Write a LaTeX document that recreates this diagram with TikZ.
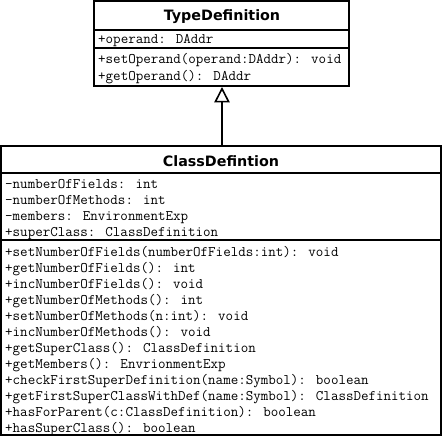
\documentclass[tikz,border=0pt]{standalone}
\usepackage{fontspec}
\newfontfamily\titlefont{DejaVu Sans}
\usetikzlibrary{arrows.meta}
\tikzset{
  umlbox/.style={draw=black, line width=2pt, fill=white, inner sep=0pt, rectangle},
  sepline/.style={draw=black, line width=1.6pt},
  mono/.style={inner sep=0pt, anchor=base west, font=\ttfamily\fontsize{14.6pt}{16pt}\selectfont, text=black},
  umltitle/.style={inner sep=0pt, anchor=base, font=\titlefont\bfseries\fontsize{14.3pt}{16pt}\selectfont, text=black},
  inherit/.style={draw=black, line width=2pt, -{Triangle[open, length=15.5pt, width=15.5pt, line width=1.6pt, fill=white]}}
}
\begin{document}
\begin{tikzpicture}[x=1pt,y=-1pt]
\useasboundingbox (0,0) rectangle (445,441);
\fill[white] (0,0) rectangle (445,441);

% TypeDefinition box
\node[umlbox, minimum width=255pt, minimum height=85pt] (typedef) at (221.5,43.5) {};
\draw[sepline] (94,30) -- (349,30);
\draw[sepline] (94,48) -- (349,48);
\node[umltitle] (typetitle) at (222,21) {TypeDefinition};
\node[mono] (ta1) at (98,44) {+operand: DAddr};
\node[mono] (tm1) at (98,63.5) {+setOperand(operand:DAddr): void};
\node[mono] (tm2) at (98,80.5) {+getOperand(): DAddr};

% ClassDefintion box
\node[umlbox, minimum width=440pt, minimum height=289pt] (classdef) at (221,290.5) {};
\draw[sepline] (1,173) -- (441,173);
\draw[sepline] (1,240) -- (441,240);
\node[umltitle] (classtitle) at (221,167) {ClassDefintion};
\node[mono] (ca1) at (5,188.5) {-numberOfFields: int};
\node[mono] (ca2) at (5,204.5) {-numberOfMethods: int};
\node[mono] (ca3) at (5,220.5) {-members: EnvironmentExp};
\node[mono] (ca4) at (5,236.5) {+superClass: ClassDefinition};
\node[mono] (cm1) at (5,256.5) {+setNumberOfFields(numberOfFields:int): void};
\node[mono] (cm2) at (5,272.5) {+getNumberOfFields(): int};
\node[mono] (cm3) at (5,288.5) {+incNumberOfFields(): void};
\node[mono] (cm4) at (5,304.5) {+getNumberOfMethods(): int};
\node[mono] (cm5) at (5,320.5) {+setNumberOfMethods(n:int): void};
\node[mono] (cm6) at (5,336.5) {+incNumberOfMethods(): void};
\node[mono] (cm7) at (5,352.5) {+getSuperClass(): ClassDefinition};
\node[mono] (cm8) at (5,368.5) {+getMembers(): EnvrionmentExp};
\node[mono] (cm9) at (5,384.5) {+checkFirstSuperDefinition(name:Symbol): boolean};
\node[mono] (cm10) at (5,400.5) {+getFirstSuperClassWithDef(name:Symbol): ClassDefinition};
\node[mono] (cm11) at (5,416.5) {+hasForParent(c:ClassDefinition): boolean};
\node[mono] (cm12) at (5,432.5) {+hasSuperClass(): boolean};

% inheritance
\draw[inherit] (classdef.north -| typetitle.south) -- (typedef.south -| typetitle.south);
\end{tikzpicture}
\end{document}
